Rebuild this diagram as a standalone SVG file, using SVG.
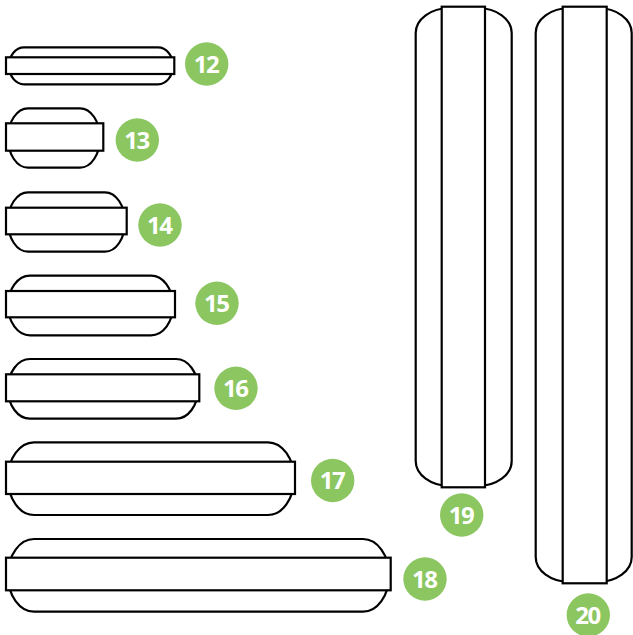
<svg xmlns="http://www.w3.org/2000/svg" width="633" height="635" viewBox="0 0 633 635">
<style>
.o{fill:#fff;stroke:#000;stroke-width:2.2}
.b{fill:#8BC660}
.t{fill:#fff;font-family:"Open Sans",Lato,sans-serif;font-weight:700;font-size:24px;text-anchor:middle;letter-spacing:-1.5px}
</style>
<rect width="633" height="635" fill="#fff"/>
<g id="n12"><rect class="o" x="9" y="47.3" width="164" height="37" rx="15" ry="18.5"/><rect class="o" x="6" y="57.3" width="168.3" height="16.7"/><circle class="b" cx="206.7" cy="64" r="21.7"/><text class="t" x="206" y="72.5">12</text></g>
<g id="n13"><rect class="o" x="8" y="108.3" width="92" height="59.4" rx="20" ry="29.7"/><rect class="o" x="6" y="123.3" width="97.3" height="27.4"/><circle class="b" cx="137.3" cy="140" r="21.7"/><text class="t" x="136.6" y="148.5">13</text></g>
<g id="n14"><rect class="o" x="8" y="192.3" width="117" height="59.4" rx="20" ry="29.7"/><rect class="o" x="6" y="207.7" width="120.7" height="26.6"/><circle class="b" cx="160" cy="225" r="21.7"/><text class="t" x="159.3" y="233.5">14</text></g>
<g id="n15"><rect class="o" x="8" y="275.7" width="165" height="59.6" rx="22" ry="29.8"/><rect class="o" x="6" y="291" width="169" height="26.3"/><circle class="b" cx="217" cy="303.3" r="21.7"/><text class="t" x="216.3" y="311.8">15</text></g>
<g id="n16"><rect class="o" x="8" y="359" width="190" height="59.7" rx="22" ry="29.8"/><rect class="o" x="6" y="374.3" width="193.3" height="27"/><circle class="b" cx="236" cy="388.3" r="21.7"/><text class="t" x="235.3" y="396.8">16</text></g>
<g id="n17"><rect class="o" x="8" y="442.3" width="286" height="72.7" rx="26" ry="36"/><rect class="o" x="6" y="461.7" width="289" height="32.3"/><circle class="b" cx="332.7" cy="480.5" r="21.7"/><text class="t" x="332" y="489">17</text></g>
<g id="n18"><rect class="o" x="8" y="539" width="381" height="72.7" rx="26" ry="36"/><rect class="o" x="6" y="557.7" width="384.7" height="32.6"/><circle class="b" cx="425" cy="579" r="21.7"/><text class="t" x="424.3" y="587.5">18</text></g>
<g id="n19"><rect class="o" x="415.7" y="8" width="96" height="478" rx="34" ry="25"/><rect class="o" x="441.7" y="6.7" width="43.3" height="480.6"/><circle class="b" cx="461.7" cy="515" r="21.7"/><text class="t" x="461" y="523.5">19</text></g>
<g id="n20"><rect class="o" x="535.7" y="8" width="96" height="574" rx="34" ry="25"/><rect class="o" x="562.7" y="6.7" width="44" height="576.6"/><circle class="b" cx="588.3" cy="615" r="21.7"/><text class="t" x="587.6" y="623.5">20</text></g>
<g id="connectors"/>
</svg>
